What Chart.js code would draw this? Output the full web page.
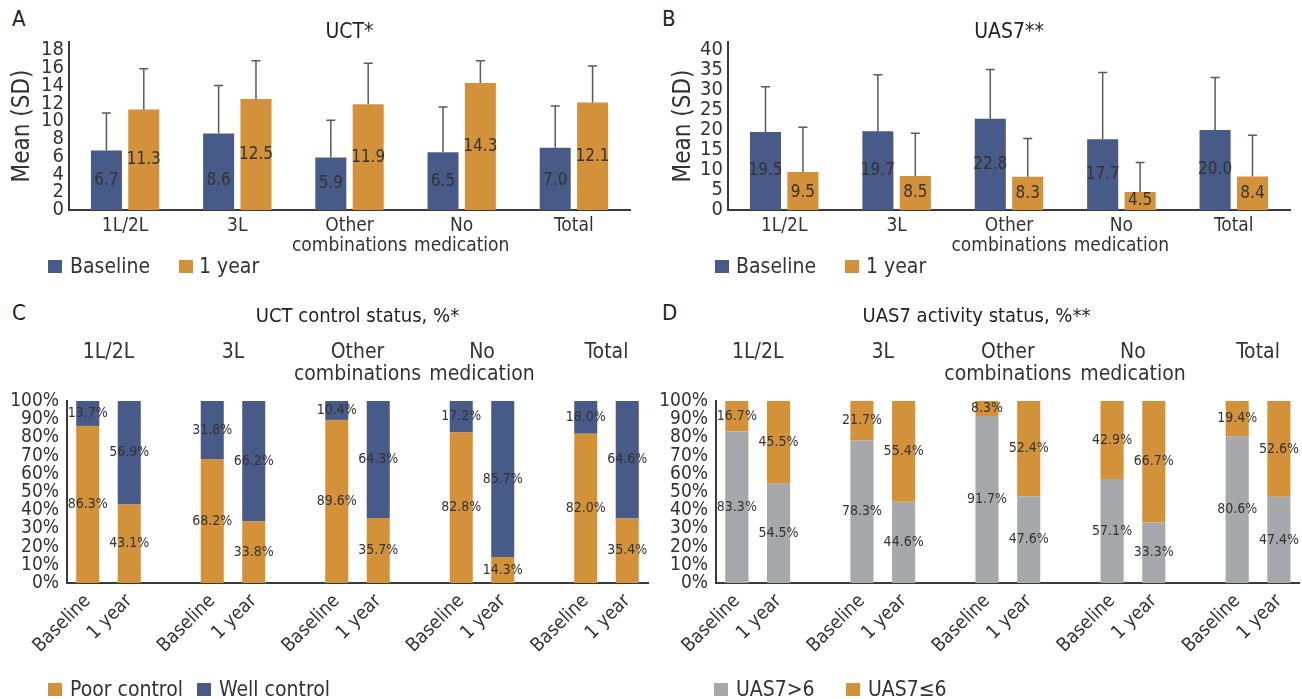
<!DOCTYPE html>
<html>
<head>
<meta charset="utf-8">
<script src="https://cdn.jsdelivr.net/npm/chart.js@4.4.1/dist/chart.umd.min.js"></script>
<style>
  html, body { margin:0; padding:0; background:#fff; width:1302px; height:699px; overflow:hidden; }
  body { font-family:'Liberation Sans Narrow','DejaVu Sans Condensed',sans-serif; color:#333; }
  canvas { position:absolute; }
  .letter { position:absolute; font-size:22px; line-height:22px; color:#222; }
  .sw { position:absolute; width:14px; height:13px; }
  .lt { position:absolute; font-size:21px; line-height:21px; color:#333; white-space:nowrap; }
</style>
</head>
<body>
<div class="letter" style="left:12px;top:8px">A</div>
<div class="letter" style="left:662px;top:8px">B</div>
<div class="letter" style="left:12px;top:302px">C</div>
<div class="letter" style="left:662px;top:302px">D</div>

<canvas id="cA" width="651" height="295" style="left:0;top:0"></canvas>
<canvas id="cB" width="651" height="295" style="left:651px;top:0"></canvas>
<canvas id="cC" width="651" height="404" style="left:0;top:295px"></canvas>
<canvas id="cD" width="651" height="404" style="left:651px;top:295px"></canvas>

<div class="sw" style="left:48px;top:260px;background:#485a87"></div>
<div class="lt" style="left:70px;top:256px">Baseline</div>
<div class="sw" style="left:179px;top:260px;background:#d3923a"></div>
<div class="lt" style="left:199px;top:256px">1 year</div>

<div class="sw" style="left:715px;top:260px;background:#485a87"></div>
<div class="lt" style="left:736px;top:256px">Baseline</div>
<div class="sw" style="left:845px;top:260px;background:#d3923a"></div>
<div class="lt" style="left:866px;top:256px">1 year</div>

<div class="sw" style="left:48px;top:683px;background:#d3923a"></div>
<div class="lt" style="left:70px;top:679px">Poor control</div>
<div class="sw" style="left:197px;top:683px;background:#485a87"></div>
<div class="lt" style="left:219px;top:679px">Well control</div>

<div class="sw" style="left:714px;top:683px;background:#a7a8ac"></div>
<div class="lt" style="left:736px;top:679px">UAS7&gt;6</div>
<div class="sw" style="left:846px;top:683px;background:#d3923a"></div>
<div class="lt" style="left:868px;top:679px">UAS7≤6</div>

<script>
// ---------- data ----------
const groups = ['1L/2L', '3L', ['Other', 'combinations'], ['No', 'medication'], 'Total'];
const timepoints = ['Baseline', '1 year'];

const uctBaseline   = [6.7, 8.6, 5.9, 6.5, 7.0];
const uctBaselineSD = [4.2, 5.4, 4.2, 5.1, 4.7];
const uct1Year      = [11.3, 12.5, 11.9, 14.3, 12.1];
const uct1YearSD    = [4.6, 4.3, 4.6, 2.5, 4.1];

const uasBaseline   = [19.5, 19.7, 22.8, 17.7, 20.0];
const uasBaselineSD = [11.3, 14.1, 12.3, 16.7, 13.1];
const uas1Year      = [9.5, 8.5, 8.3, 4.5, 8.4];
const uas1YearSD    = [11.2, 10.7, 9.6, 7.4, 10.3];

const uctPoorBaseline = [86.3, 68.2, 89.6, 82.8, 82.0];
const uctWellBaseline = [13.7, 31.8, 10.4, 17.2, 18.0];
const uctPoor1Year    = [43.1, 33.8, 35.7, 14.3, 35.4];
const uctWell1Year    = [56.9, 66.2, 64.3, 85.7, 64.6];

const uasHighBaseline = [83.3, 78.3, 91.7, 57.1, 80.6];
const uasLowBaseline  = [16.7, 21.7, 8.3, 42.9, 19.4];
const uasHigh1Year    = [54.5, 44.6, 47.6, 33.3, 47.4];
const uasLow1Year     = [45.5, 55.4, 52.4, 66.7, 52.6];

// ---------- styles ----------
const FONT = "'Liberation Sans Narrow','DejaVu Sans Condensed',sans-serif";
const BLUE = '#485a87', ORANGE = '#d3923a', GRAY = '#a7a8ac';
const TXT = '#333';

// ---------- plugins ----------
const errorBars = {
  id: 'errorBars',
  afterDatasetsDraw(chart) {
    const ctx = chart.ctx, y = chart.scales.y;
    chart.data.datasets.forEach((ds, i) => {
      if (!ds.sd) return;
      chart.getDatasetMeta(i).data.forEach((bar, j) => {
        const top = y.getPixelForValue(ds.data[j] + ds.sd[j]);
        ctx.save();
        ctx.strokeStyle = '#5a5a5a';
        ctx.lineWidth = 1.5;
        ctx.beginPath();
        ctx.moveTo(bar.x, bar.y);
        ctx.lineTo(bar.x, top);
        ctx.moveTo(bar.x - 4.5, top);
        ctx.lineTo(bar.x + 4.5, top);
        ctx.stroke();
        ctx.restore();
      });
    });
  }
};

const valueLabels = {
  id: 'valueLabels',
  afterDatasetsDraw(chart, args, opts) {
    const ctx = chart.ctx, y = chart.scales.y;
    ctx.save();
    ctx.font = opts.size + 'px ' + FONT;
    ctx.fillStyle = TXT;
    ctx.textAlign = 'center';
    ctx.textBaseline = 'middle';
    chart.data.datasets.forEach((ds, i) => {
      chart.getDatasetMeta(i).data.forEach((bar, j) => {
        const v = ds.data[j];
        if (v == null) return;
        const py = ds.labelAt != null
          ? y.getPixelForValue(Math.min(ds.labelAt, v / 2))
          : (bar.y + bar.base) / 2;
        ctx.fillText(opts.pct ? v.toFixed(1) + '%' : v.toFixed(1), bar.x, py);
      });
    });
    ctx.restore();
  }
};

const groupLabels = {
  id: 'groupLabels',
  afterDraw(chart, args, opts) {
    const ctx = chart.ctx, x = chart.scales.x;
    ctx.save();
    ctx.font = opts.size + 'px ' + FONT;
    ctx.fillStyle = TXT;
    ctx.textAlign = 'center';
    ctx.textBaseline = 'middle';
    opts.labels.forEach((lab, i) => {
      const cx = (x.getPixelForValue(3 * i) + x.getPixelForValue(3 * i + 1)) / 2;
      const lines = Array.isArray(lab) ? lab : [lab];
      lines.forEach((t, k) => ctx.fillText(t, cx, opts.top + k * opts.lineGap));
    });
    ctx.restore();
  }
};

// ---------- helpers ----------
function slotData(a, b) {
  const out = [];
  a.forEach((v, i) => { out.push(v, b[i]); if (i < a.length - 1) out.push(null); });
  return out;
}
const slotLabels = [];
groups.forEach((g, i) => { slotLabels.push(...timepoints); if (i < groups.length - 1) slotLabels.push(''); });

function meanChart(id, title, base, baseSD, yr, yrSD, ymax, step, labelAtBase, labelAtYr, yWidth, padRight, yTitlePad) {
  new Chart(document.getElementById(id), {
    type: 'bar',
    data: {
      labels: groups,
      datasets: [
        { label: 'Baseline', data: base, sd: baseSD, labelAt: labelAtBase, backgroundColor: BLUE,
          barPercentage: 0.83, categoryPercentage: 0.666 },
        { label: '1 year', data: yr, sd: yrSD, labelAt: labelAtYr, backgroundColor: ORANGE,
          barPercentage: 0.83, categoryPercentage: 0.666 }
      ]
    },
    options: {
      responsive: false, animation: false,
      layout: { padding: { left: 0, right: padRight, top: 0, bottom: 0 } },
      plugins: {
        legend: { display: false }, tooltip: { enabled: false },
        title: { display: true, text: title, fullSize: false, color: '#222',
                 font: { family: FONT, size: 21, weight: 'normal', lineHeight: 1 },
                 padding: { top: 22, bottom: -1 } },
        valueLabels: { size: 17 }
      },
      scales: {
        x: {
          grid: { display: false, drawTicks: false },
          border: { display: true, color: '#3a3a3a', width: 2 },
          ticks: { font: { family: FONT, size: 19, lineHeight: 1.05 }, color: TXT, padding: 6,
                   maxRotation: 0, autoSkip: false },
          afterFit(s) { s.height = 85; }
        },
        y: {
          min: 0, max: ymax,
          grid: { display: false, drawTicks: false },
          border: { display: true, color: '#3a3a3a', width: 2 },
          ticks: { stepSize: step, includeBounds: false, autoSkip: false,
                   font: { family: FONT, size: 20 }, color: TXT, padding: 5 },
          title: { display: true, text: 'Mean (SD)', color: TXT, font: { family: FONT, size: 24 },
                   padding: { top: yTitlePad, bottom: 0 } },
          afterFit(s) { s.width = yWidth; }
        }
      }
    },
    plugins: [errorBars, valueLabels]
  });
}

function statusChart(id, title, lowName, lowColor, lowB, lowY, topName, topColor, topB, topY, padRight, yWidth, titleFull) {
  new Chart(document.getElementById(id), {
    type: 'bar',
    data: {
      labels: slotLabels,
      datasets: [
        { label: lowName, data: slotData(lowB, lowY), backgroundColor: lowColor,
          barPercentage: 0.555, categoryPercentage: 1 },
        { label: topName, data: slotData(topB, topY), backgroundColor: topColor,
          barPercentage: 0.555, categoryPercentage: 1 }
      ]
    },
    options: {
      responsive: false, animation: false,
      layout: { padding: { left: 0, right: padRight, top: 0, bottom: 0 } },
      plugins: {
        legend: { display: false }, tooltip: { enabled: false },
        title: { display: true, text: title, fullSize: titleFull, color: '#222',
                 font: { family: FONT, size: 20, weight: 'normal' }, padding: { top: 10, bottom: 72 } },
        valueLabels: { size: 14, pct: true },
        groupLabels: { labels: groups, size: 21, top: 58, lineGap: 22 }
      },
      scales: {
        x: {
          stacked: true,
          grid: { display: false, drawTicks: false },
          border: { display: true, color: '#3a3a3a', width: 2 },
          ticks: { font: { family: FONT, size: 19 }, color: TXT, padding: 7,
                   maxRotation: 45, minRotation: 45, autoSkip: false },
          afterFit(s) { s.height = 116; }
        },
        y: {
          stacked: true, min: 0, max: 100,
          grid: { display: false, drawTicks: false },
          border: { display: true, color: '#3a3a3a', width: 2 },
          ticks: { stepSize: 10, autoSkip: false, callback: v => v + '%',
                   font: { family: FONT, size: 19 }, color: TXT, padding: 8 },
          afterFit(s) { s.width = yWidth; }
        }
      }
    },
    plugins: [valueLabels, groupLabels]
  });
}

meanChart('cA', 'UCT*', uctBaseline, uctBaselineSD, uct1Year, uct1YearSD, 18.9, 2, 3.3, 7.1, 69, 21, 8);
meanChart('cB', 'UAS7**', uasBaseline, uasBaselineSD, uas1Year, uas1YearSD, 42, 5, 12.2, 4.3, 77, 12, 18);
statusChart('cC', 'UCT control status, %*', 'Poor control', ORANGE, uctPoorBaseline, uctPoor1Year,
            'Well control', BLUE, uctWellBaseline, uctWell1Year, 3, 67, false);
statusChart('cD', 'UAS7 activity status, %**', 'UAS7>6', GRAY, uasHighBaseline, uasHigh1Year,
            'UAS7≤6', ORANGE, uasLowBaseline, uasLow1Year, 0, 65, true);
</script>
</body>
</html>
